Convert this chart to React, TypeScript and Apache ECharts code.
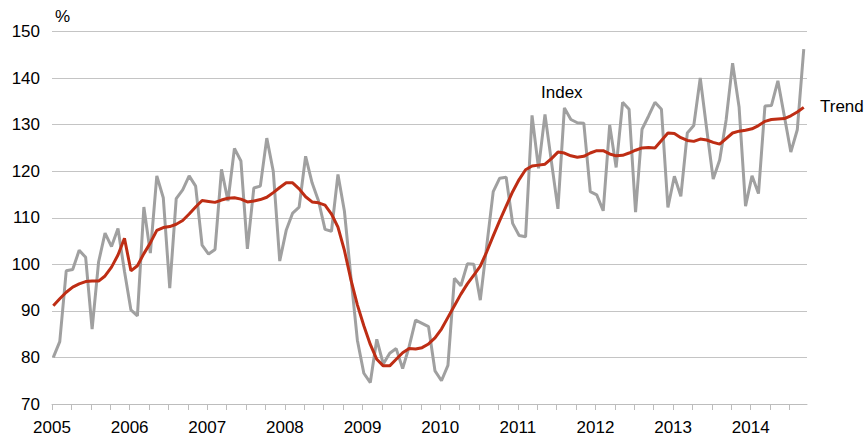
import React, { useEffect, useRef } from "react";
import * as echarts from "echarts";

// Monthly observations, Jan 2005 .. Sep 2014
const yearLabels = ["2005", "2006", "2007", "2008", "2009", "2010", "2011", "2012", "2013", "2014"];
const yTicks = [70, 150, 10]; // min, max, step

const indexValues = [
  80.0, 83.4, 98.6, 98.9, 103.0, 101.5, 86.1, 100.5, 106.7, 103.8, 107.7, 98.5,
  90.2, 88.9, 112.3, 102.4, 119.0, 114.3, 94.9, 114.1, 116.0, 119.0, 116.8, 104.1,
  102.2, 103.2, 120.4, 113.6, 124.9, 122.2, 103.3, 116.4, 116.8, 127.1, 120.0, 100.7,
  107.3, 111.0, 112.3, 123.2, 117.5, 113.6, 107.5, 107.1, 119.3, 111.4, 97.3, 83.7,
  76.6, 74.6, 83.9, 78.6, 80.9, 81.9, 77.6, 82.3, 88.0, 87.3, 86.6, 77.1,
  75.0, 78.3, 97.0, 95.4, 100.1, 100.0, 92.3, 104.0, 115.6, 118.5, 118.7, 108.8,
  106.2, 105.9, 132.0, 120.6, 132.2, 122.0, 111.9, 133.6, 131.1, 130.4, 130.3, 115.6,
  114.9, 111.5, 129.9, 120.8, 134.8, 133.3, 111.2, 129.0, 131.8, 134.8, 133.3, 112.2,
  118.9, 114.6, 128.2, 129.8, 140.0, 129.0, 118.3, 122.4, 131.0, 143.2, 133.8, 112.5,
  119.0, 115.2, 134.0, 134.1, 139.4, 131.8, 124.1, 128.9, 146.2,
];

const trendValues = [
  91.1, 92.6, 94.0, 95.1, 95.8, 96.3, 96.4, 96.4, 97.5, 99.4, 102.0, 105.6,
  98.6, 99.7, 102.3, 104.6, 107.3, 107.9, 108.1, 108.6, 109.4, 110.8, 112.3, 113.7,
  113.5, 113.3, 113.8, 114.2, 114.3, 114.0, 113.4, 113.6, 113.9, 114.4, 115.4, 116.5,
  117.5, 117.5, 116.2, 114.5, 113.4, 113.2, 112.7, 110.8, 108.0, 103.0, 96.7, 91.3,
  86.8, 82.8, 79.6, 78.2, 78.2, 79.6, 81.0, 81.9, 81.8, 82.1, 82.9, 84.2,
  86.1, 88.6, 91.1, 93.6, 95.8, 97.7, 99.6, 102.7, 106.1, 109.4, 112.5, 115.6,
  118.2, 120.3, 121.1, 121.3, 121.5, 122.7, 124.1, 123.9, 123.3, 123.0, 123.2, 123.9,
  124.4, 124.4, 123.7, 123.3, 123.4, 123.9, 124.5, 125.0, 125.1, 125.0, 126.6, 128.2,
  128.1, 127.2, 126.6, 126.4, 126.9, 126.7, 126.2, 125.8, 127.0, 128.2, 128.6, 128.8,
  129.1, 129.8, 130.7, 131.1, 131.2, 131.3, 131.9, 132.7, 133.7,
];

const seriesNames = ["Index", "Trend"];
const unitLabel = "%";

const FONT = "'Liberation Sans', Arial, Helvetica, sans-serif";

export default function App() {
  const ref = useRef<HTMLDivElement>(null);

  useEffect(() => {
    if (!ref.current) return;
    const chart = echarts.init(ref.current, undefined, { renderer: "svg" });
    const toPoints = (vals: number[]) => vals.map((v, i) => [i + 0.2, v]);

    chart.setOption({
      animation: false,
      backgroundColor: "#ffffff",
      grid: { left: 52, right: 61, top: 31.5, bottom: 31.5, containLabel: false },
      xAxis: {
        type: "value",
        min: 0,
        max: 116.7,
        interval: 3,
        axisLine: { show: true, lineStyle: { color: "#bdbdbd", width: 1 } },
        axisTick: { show: true, length: 6, lineStyle: { color: "#bdbdbd" } },
        splitLine: { show: false },
        axisLabel: {
          margin: 15,
          color: "#000",
          fontSize: 17,
          fontFamily: FONT,
          showMaxLabel: false,
          formatter: (v: number) =>
            Math.abs(v % 12) < 1e-6 && yearLabels[Math.round(v / 12)] !== undefined
              ? yearLabels[Math.round(v / 12)]
              : "",
        },
      },
      yAxis: {
        type: "value",
        min: yTicks[0],
        max: yTicks[1],
        interval: yTicks[2],
        axisLine: { show: false },
        axisTick: { show: false },
        splitLine: { show: true, lineStyle: { color: "#c4c4c4", width: 1 } },
        axisLabel: { margin: 12, color: "#000", fontSize: 17, fontFamily: FONT },
      },
      series: [
        {
          name: seriesNames[0],
          type: "line",
          data: toPoints(indexValues),
          showSymbol: false,
          lineStyle: { color: "#a0a0a0", width: 3 },
          itemStyle: { color: "#a0a0a0" },
          z: 2,
        },
        {
          name: seriesNames[1],
          type: "line",
          data: toPoints(trendValues),
          showSymbol: false,
          lineStyle: { color: "#be2d14", width: 3 },
          itemStyle: { color: "#be2d14" },
          z: 3,
        },
      ],
      graphic: [
        {
          type: "text",
          left: 55,
          top: 8,
          style: { text: unitLabel, fontSize: 17, fontFamily: FONT, fill: "#000" },
        },
        {
          type: "text",
          left: 541,
          top: 84,
          style: { text: seriesNames[0], fontSize: 17, fontFamily: FONT, fill: "#000" },
        },
        {
          type: "text",
          left: 820,
          top: 98,
          style: { text: seriesNames[1], fontSize: 17, fontFamily: FONT, fill: "#000" },
        },
      ],
    });
    return () => chart.dispose();
  }, []);

  return (
    <div
      ref={ref}
      style={{ position: "fixed", left: 0, top: 0, width: 868, height: 436, background: "#fff" }}
    />
  );
}
